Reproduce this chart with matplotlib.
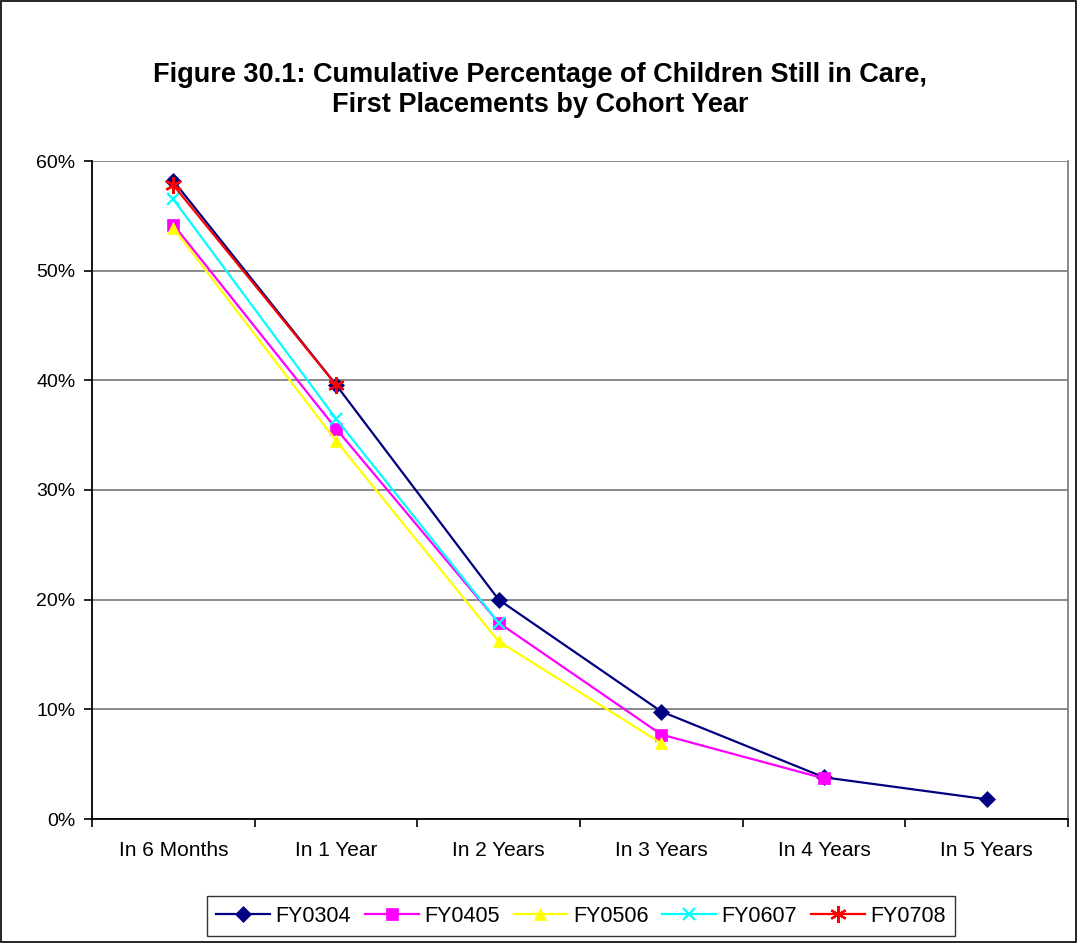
import matplotlib
matplotlib.use("Agg")
import matplotlib.pyplot as plt
from matplotlib.patches import Rectangle

plt.rcParams['font.family'] = ['Liberation Sans', 'DejaVu Sans']

categories = ["In 6 Months", "In 1 Year", "In 2 Years", "In 3 Years", "In 4 Years", "In 5 Years"]

fy0304 = [58.2, 39.6, 20.0, 9.8, 3.8, 1.8]
fy0405 = [54.2, 35.6, 17.9, 7.7, 3.7]
fy0506 = [53.9, 34.5, 16.2, 6.9]
fy0607 = [56.5, 36.5, 17.9]
fy0708 = [57.8, 39.6]

series = [
    ("FY0304", fy0304, "#000080", "D", 8),
    ("FY0405", fy0405, "#FF00FF", "s", 8),
    ("FY0506", fy0506, "#FFFF00", "^", 9),
    ("FY0607", fy0607, "#00FFFF", "x", 9),
    ("FY0708", fy0708, "#FF0000", (6, 2, 0), 12),
]

fig = plt.figure(figsize=(10.77, 9.43), dpi=100)
ax = fig.add_axes([92 / 1077, 1 - 819 / 943, (1068 - 92) / 1077, (819 - 161) / 943])

for name, vals, color, marker, ms in series:
    x = [i + 0.5 for i in range(len(vals))]
    ax.plot(x, vals, color=color, marker=marker, markersize=ms, linewidth=1.6,
            markeredgewidth=1.6 if marker in ("x", (6, 2, 0)) else 0.5,
            markeredgecolor=color, label=name)

ax.set_xlim(0, len(categories))
ax.set_ylim(0, 60)
ax.set_yticks(range(0, 61, 10))
ax.set_yticklabels([f"{v}%" for v in range(0, 61, 10)], fontsize=14)
ax.set_xticks([i + 0.5 for i in range(len(categories))])
ax.set_xticklabels(categories, fontsize=15)
ax.set_xticks(range(len(categories) + 1), minor=True)
ax.tick_params(axis='x', which='major', length=0, pad=16)
ax.tick_params(axis='x', which='minor', length=6, color='black', width=1.2, direction='out')
ax.tick_params(axis='y', length=6, color='black', width=1.2, pad=6)
ax.yaxis.grid(True, color='#808080', linewidth=1.3)
ax.set_axisbelow(True)
ax.spines['top'].set_visible(False)
ax.spines['right'].set_color('#808080')
ax.spines['right'].set_linewidth(1.3)
ax.spines['left'].set_color('black')
ax.spines['left'].set_linewidth(1.3)
ax.spines['bottom'].set_color('black')
ax.spines['bottom'].set_linewidth(1.3)

fig.text(540 / 1077, 1 - 90 / 943,
         "Figure 30.1: Cumulative Percentage of Children Still in Care,\nFirst Placements by Cohort Year",
         ha='center', va='center', fontsize=19.5, fontweight='bold', linespacing=1.2)

leg = fig.legend(loc='center', bbox_to_anchor=(581 / 1077, 1 - 916 / 943), ncol=5,
                 fontsize=15.5, frameon=True, fancybox=False, edgecolor='black',
                 handlelength=2.5, columnspacing=0.65, handletextpad=0.25,
                 borderpad=0.45)
leg.get_frame().set_linewidth(1.0)

fig.patches.append(Rectangle((0.001, 0.001), 0.998, 0.998, transform=fig.transFigure,
                             fill=False, edgecolor='black', linewidth=1.2))

fig.savefig("out.png", dpi=100)
